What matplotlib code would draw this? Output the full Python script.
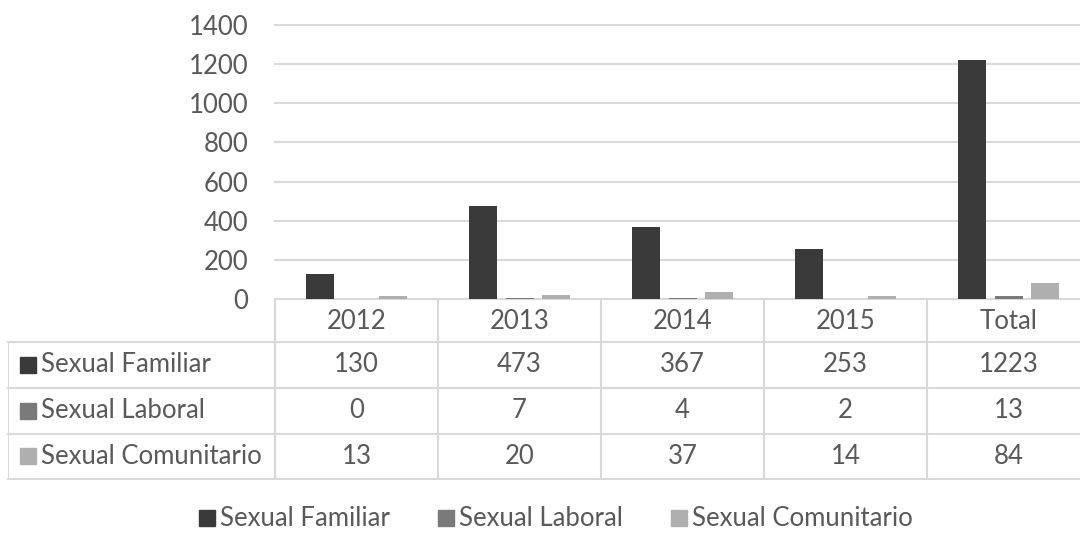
import matplotlib
matplotlib.use("Agg")
import matplotlib.pyplot as plt
from matplotlib.lines import Line2D

plt.rcParams["font.family"] = ["Lato", "DejaVu Sans"]

# data
categories = ["2012", "2013", "2014", "2015", "Total"]
series_names = ["Sexual Familiar", "Sexual Laboral", "Sexual Comunitario"]
familiar = [130, 473, 367, 253, 1223]
laboral = [0, 7, 4, 2, 13]
comunitario = [13, 20, 37, 14, 84]
y_ticks = [0, 200, 400, 600, 800, 1000, 1200, 1400]

colors = ["#3a3a3a", "#7a7a7a", "#afafaf"]
text_color = "#595959"
grid_color = "#d9d9d9"
fs = 18.5

W, H = 1080, 535
fig = plt.figure(figsize=(W / 100, H / 100), dpi=100)


def fx(px):
    return px / W


def fy(py):
    return 1 - py / H


# plot area in pixels
col_w = 163
x0, y_top, y_zero = 275, 25, 299
ax = fig.add_axes([fx(x0), fy(y_zero), fx(col_w * 5), (y_zero - y_top) / H])

xs = list(range(len(categories)))
offset = 36.5 / col_w
bar_w = 28 / col_w
for k, vals in enumerate([familiar, laboral, comunitario]):
    ax.bar([x + (k - 1) * offset for x in xs], vals, width=bar_w,
           color=colors[k], zorder=3)

ax.set_xlim(-0.5, len(categories) - 0.5)
ax.set_ylim(0, 1400)
ax.set_yticks(y_ticks)
ax.set_yticklabels([str(t) for t in y_ticks], fontsize=fs, color=text_color)
ax.tick_params(axis="y", length=0, pad=19)
ax.set_xticks([])
for s in ax.spines.values():
    s.set_visible(False)
for t in y_ticks:
    ax.axhline(t, color=grid_color, lw=1.5, zorder=1, clip_on=False)

# data table
tx0, tx1 = 8, x0 + col_w * 5
rows_y = [299, 342, 388, 434, 479]
tab = fig.add_axes([fx(tx0), fy(rows_y[-1]), fx(tx1 - tx0), (rows_y[-1] - rows_y[0]) / H])
tab.set_xlim(-0.5 - (x0 - tx0) / col_w, len(categories) - 0.5)
tab.set_ylim(rows_y[-1], rows_y[0])
tab.axis("off")

lab_left = -0.5 - (x0 - tx0) / col_w
for yy in rows_y[1:]:
    tab.plot([lab_left, len(categories) - 0.5], [yy, yy], color=grid_color, lw=1.5,
             clip_on=False)
tab.plot([lab_left, lab_left], [rows_y[1], rows_y[-1]], color=grid_color, lw=1.5)
for i in range(len(categories)):
    tab.plot([i - 0.5, i - 0.5], [rows_y[0], rows_y[-1]], color=grid_color, lw=1.5)

for i, c in enumerate(categories):
    tab.text(i, (rows_y[0] + rows_y[1]) / 2 + 1, c, ha="center", va="center",
             fontsize=fs, color=text_color)

for r, (name, vals) in enumerate(zip(series_names, [familiar, laboral, comunitario])):
    yc = (rows_y[r + 1] + rows_y[r + 2]) / 2
    tab.plot([lab_left + 20 / col_w], [yc], marker="s", ms=11, color=colors[r],
             linestyle="none")
    tab.text(lab_left + 33 / col_w, yc, name, ha="left", va="center",
             fontsize=fs, color=text_color)
    for i, v in enumerate(vals):
        tab.text(i, yc, str(v), ha="center", va="center", fontsize=fs,
                 color=text_color)

# legend
handles = [Line2D([], [], marker="s", ms=11, color=colors[k], linestyle="none")
           for k in range(3)]
fig.legend(handles, series_names, loc="center", ncol=3,
           bbox_to_anchor=(fx(556), fy(519)), frameon=False, fontsize=fs,
           labelcolor=text_color, handletextpad=0.2, columnspacing=1.9,
           handlelength=0.6, borderpad=0)

fig.savefig("out.png", dpi=100)
